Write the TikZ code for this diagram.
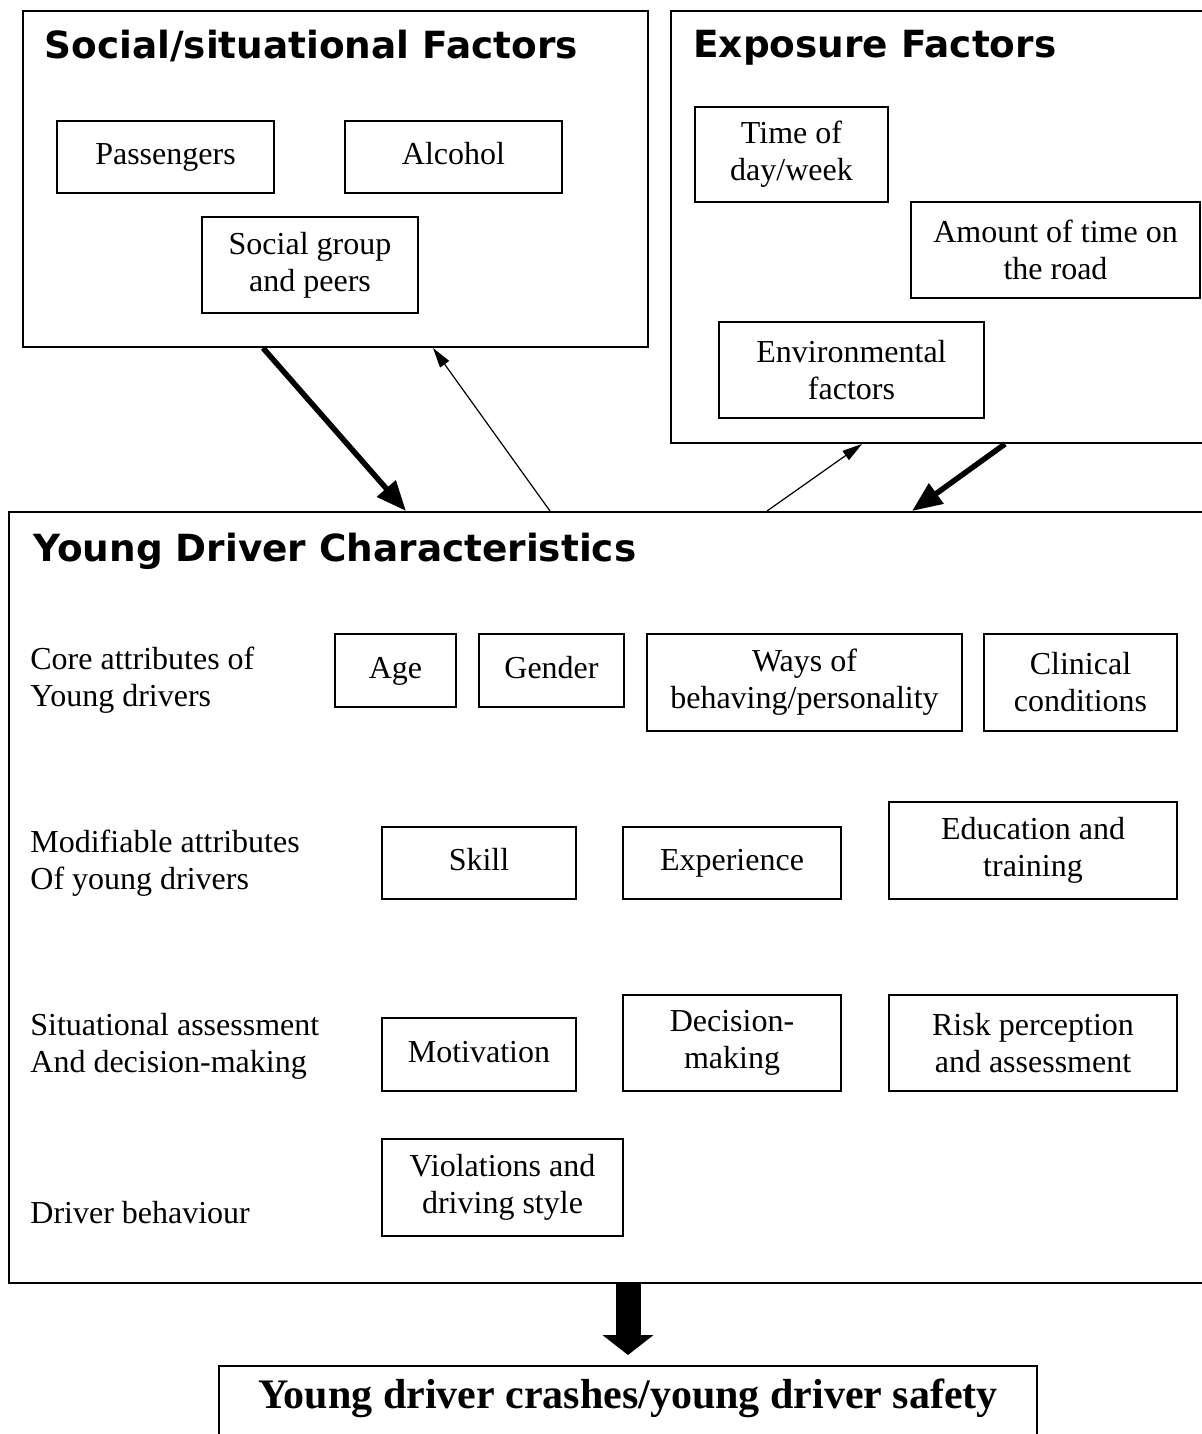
\documentclass[tikz,border=0pt]{standalone}
\usepackage{fontspec}
\setmainfont{Liberation Serif}
\newfontfamily\headfont{DejaVu Sans}
\usetikzlibrary{arrows.meta}

\begin{document}
\begin{tikzpicture}[x=0.5pt, y=-0.5pt,
  every node/.style={font=\fontsize{16pt}{18.5pt}\selectfont},
  group/.style={draw, line width=1pt, inner sep=0pt},
  item/.style={draw, line width=0.9pt, align=center, inner sep=0pt},
  oneline/.style={item, text height=11pt, text depth=3.5pt},
  heading/.style={anchor=base west, inner sep=0pt, font=\headfont\bfseries\fontsize{18.7pt}{22pt}\selectfont},
  rowlabel/.style={anchor=west, align=left, inner sep=0pt},
  strong/.style={line width=2.75pt, -{Triangle[length=15pt,width=12pt]}},
  weak/.style={line width=0.6pt, -{Triangle[length=10pt,width=5.5pt]}},
  bigarrow/.style={line width=12.5pt, -{Triangle[length=10pt,width=25pt]}, shorten >=5pt}]
\useasboundingbox (0,0) rectangle (1202,1434);

\node[group, minimum width=312.5pt, minimum height=168pt] (social) at (335.5,179) {};
\node[heading] (socialhead) at (44,59) {Social/situational Factors};
\node[oneline, minimum width=108.5pt, minimum height=36pt] (pass) at (165.5,157) {Passengers};
\node[oneline, minimum width=108.5pt, minimum height=36pt] (alc) at (453.5,157) {Alcohol};
\node[item, minimum width=108pt, minimum height=48pt] (peers) at (310,265) {Social group\\and peers};

\node[group, minimum width=269.5pt, minimum height=216pt] (expo) at (940.5,227) {};
\node[heading] (expohead) at (693,58) {Exposure Factors};
\node[item, minimum width=96.5pt, minimum height=47.5pt] (tday) at (791.5,154.5) {Time of\\day/week};
\node[item, minimum width=144.5pt, minimum height=48pt] (amount) at (1055.5,250) {Amount of time on\\the road};
\node[item, minimum width=132.5pt, minimum height=48pt] (env) at (851.5,370) {Environmental\\factors};

\node[group, minimum width=600.5pt, minimum height=385.5pt] (ydc) at (609.5,897.5) {};
\node[heading] (ydchead) at (33,561) {Young Driver Characteristics};

\node[rowlabel] (core) at (30,680) {Core attributes of\\Young drivers};
\node[oneline, minimum width=60.5pt, minimum height=36.5pt] (age) at (395.5,670.5) {Age};
\node[oneline, minimum width=72.5pt, minimum height=36.5pt] (gender) at (551.5,670.5) {Gender};
\node[item, minimum width=157.5pt, minimum height=48.5pt] (ways) at (804.5,682.5) {Ways of\\behaving/personality};
\node[item, minimum width=96.5pt, minimum height=48.5pt] (clin) at (1080.5,682.5) {Clinical\\conditions};

\node[rowlabel] (modif) at (30,863) {Modifiable attributes\\Of young drivers};
\node[oneline, minimum width=97pt, minimum height=36pt] (skill) at (479,863) {Skill};
\node[oneline, minimum width=109pt, minimum height=36pt] (exper) at (732,863) {Experience};
\node[item, minimum width=144pt, minimum height=48.5pt] (edu) at (1033,850.5) {Education and\\training};

\node[rowlabel] (situ) at (30,1046) {Situational assessment\\And decision-making};
\node[oneline, minimum width=97pt, minimum height=36.5pt] (motiv) at (479,1054.5) {Motivation};
\node[item, minimum width=109pt, minimum height=48pt] (decis) at (732,1043) {Decision-\\making};
\node[item, minimum width=144pt, minimum height=48pt] (risk) at (1033,1043) {Risk perception\\and assessment};

\node[rowlabel] (behav) at (30,1213) {Driver behaviour};
\node[item, minimum width=120.5pt, minimum height=48.5pt] (viol) at (502.5,1187.5) {Violations and\\driving style};

\node[draw, line width=1pt, anchor=north, minimum width=409pt, inner xsep=0pt, inner ysep=6pt, text height=15pt, text depth=40pt, font=\bfseries\fontsize{21pt}{25pt}\selectfont] (crash) at (628,1365) {Young driver crashes/young driver safety};

\draw[strong] ([xshift=-36.25pt]social.south) -- ([xshift=-101.75pt]ydc.north);
\draw[weak] ([xshift=-29.75pt]ydc.north) -- ([xshift=48.75pt]social.south);
\draw[weak] ([xshift=78.75pt]ydc.north) -- ([xshift=-39.25pt]expo.south);
\draw[strong] ([xshift=32.25pt]expo.south) -- ([xshift=151.25pt]ydc.north);
\draw[bigarrow] (ydc.south -| crash.north) -- (crash.north);
\end{tikzpicture}
\end{document}
